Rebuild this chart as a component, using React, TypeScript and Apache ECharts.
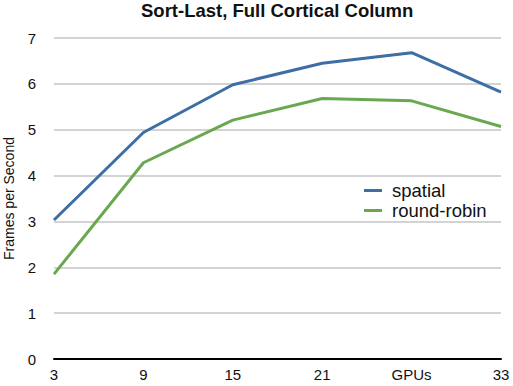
import React, { useEffect, useRef } from "react";
import * as echarts from "echarts";

const categories = ["3", "9", "15", "21", "27", "33"];
const xTickLabels = ["3", "9", "15", "21", "GPUs", "33"];
const spatial = [3.03, 4.94, 5.98, 6.45, 6.68, 5.82];
const roundRobin = [1.85, 4.28, 5.21, 5.68, 5.63, 5.07];
const yTicks = [0, 1, 2, 3, 4, 5, 6, 7];

const FONT = "'Liberation Sans', Arial, Helvetica, sans-serif";

export default function App() {
  const ref = useRef<HTMLDivElement>(null);
  useEffect(() => {
    if (!ref.current) return;
    const chart = echarts.init(ref.current, undefined, { renderer: "svg" });
    chart.setOption({
      animation: false,
      backgroundColor: "#ffffff",
      title: {
        text: "Sort-Last, Full Cortical Column",
        left: 141,
        top: 1,
        padding: 0,
        textStyle: { fontFamily: FONT, fontSize: 18.5, fontWeight: "bold", color: "#111" },
      },
      legend: {
        orient: "vertical",
        left: 364,
        top: 181,
        padding: 0,
        icon: "rect",
        itemWidth: 18,
        itemHeight: 3,
        itemGap: 1,
        textStyle: { fontFamily: FONT, fontSize: 18.5, color: "#111", padding: [0, 0, 0, 5] },
        data: ["spatial", "round-robin"],
      },
      grid: { left: 54, right: 12, top: 38, bottom: 27, containLabel: false, outerBoundsMode: "none" },
      xAxis: {
        type: "category",
        data: categories,
        boundaryGap: false,
        axisLine: { show: true, lineStyle: { color: "#000", width: 2 } },
        axisTick: { show: false },
        axisLabel: {
          fontFamily: FONT,
          fontSize: 15,
          color: "#111",
          margin: 8,
          interval: 0,
          formatter: (_v: string, i: number) => xTickLabels[i],
        },
        splitLine: { show: false },
      },
      yAxis: {
        type: "value",
        min: yTicks[0],
        max: yTicks[yTicks.length - 1],
        interval: 1,
        name: "Frames per Second",
        nameLocation: "middle",
        nameRotate: 90,
        nameGap: 38,
        nameTextStyle: { fontFamily: FONT, fontSize: 14, color: "#111" },
        axisLine: { show: false },
        axisTick: { show: false },
        axisLabel: { fontFamily: FONT, fontSize: 15, color: "#111", margin: 18 },
        splitLine: { lineStyle: { color: "#c4c4c4", width: 1.5 } },
      },
      series: [
        {
          name: "spatial",
          type: "line",
          data: spatial,
          showSymbol: false,
          symbol: "none",
          color: "#3d6ea5",
          lineStyle: { color: "#3d6ea5", width: 3 },
        },
        {
          name: "round-robin",
          type: "line",
          data: roundRobin,
          showSymbol: false,
          symbol: "none",
          color: "#6aa84f",
          lineStyle: { color: "#6aa84f", width: 3 },
        },
      ],
    });
    return () => chart.dispose();
  }, []);
  return <div ref={ref} style={{ width: 513, height: 386, position: "absolute", left: 0, top: 0 }} />;
}
